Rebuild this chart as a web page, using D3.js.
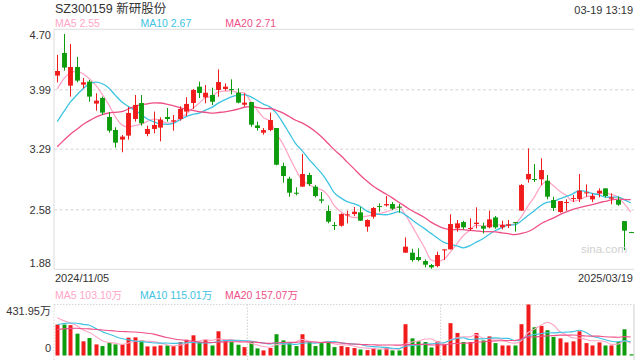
<!DOCTYPE html>
<html><head><meta charset="utf-8">
<script src="https://cdn.jsdelivr.net/npm/d3@7"></script>
<style>
body{margin:0;background:#fff;}
svg{display:block;font-family:"Liberation Sans",Arial,"Noto Sans CJK SC",sans-serif;}
</style>
</head><body>
<svg id="chart" width="640" height="360"></svg>
<script>
// ---------- data ----------
const title = "SZ300159 新研股份";
const timeStamp = "03-19 13:19";
const dates = [
 "2024/11/05","2024/11/06","2024/11/07","2024/11/08","2024/11/11","2024/11/12","2024/11/13","2024/11/14","2024/11/15","2024/11/18",
 "2024/11/19","2024/11/20","2024/11/21","2024/11/22","2024/11/25","2024/11/26","2024/11/27","2024/11/28","2024/11/29","2024/12/02",
 "2024/12/03","2024/12/04","2024/12/05","2024/12/06","2024/12/09","2024/12/10","2024/12/11","2024/12/12","2024/12/13","2024/12/16",
 "2024/12/17","2024/12/18","2024/12/19","2024/12/20","2024/12/23","2024/12/24","2024/12/25","2024/12/26","2024/12/27","2024/12/30",
 "2024/12/31","2025/01/02","2025/01/03","2025/01/06","2025/01/07","2025/01/08","2025/01/09","2025/01/10","2025/01/13","2025/01/14",
 "2025/01/15","2025/01/16","2025/01/17","2025/01/20","2025/01/21","2025/01/22","2025/01/23","2025/01/24","2025/01/27","2025/02/05",
 "2025/02/06","2025/02/07","2025/02/10","2025/02/11","2025/02/12","2025/02/13","2025/02/14","2025/02/17","2025/02/18","2025/02/19",
 "2025/02/20","2025/02/21","2025/02/24","2025/02/25","2025/02/26","2025/02/27","2025/02/28","2025/03/03","2025/03/04","2025/03/05",
 "2025/03/06","2025/03/07","2025/03/10","2025/03/11","2025/03/12","2025/03/13","2025/03/14","2025/03/17","2025/03/18","2025/03/19"
];
const openP = [
 4.156,4.422,4.038,4.257,4.050,4.085,3.827,3.893,3.670,3.517,
 3.404,3.451,3.646,3.834,3.470,3.529,3.545,3.670,3.615,3.646,
 3.733,3.834,4.026,3.900,3.928,3.987,3.998,3.998,3.955,3.814,
 3.845,3.571,3.485,3.516,3.540,3.093,2.945,2.780,2.851,2.988,
 2.851,2.702,2.565,2.400,2.392,2.514,2.529,2.549,2.381,2.498,
 2.623,2.631,2.647,2.616,2.075,2.075,2.024,1.977,1.930,1.918,
 2.103,2.114,2.361,2.435,2.353,2.412,2.388,2.373,2.490,2.373,
 2.392,2.435,2.569,2.937,2.941,2.937,2.921,2.694,2.553,2.663,
 2.710,2.706,2.776,2.702,2.772,2.831,2.710,2.694,2.447,2.318
];
const highP = [
 4.399,4.645,4.528,4.375,4.128,4.105,3.948,3.909,3.725,3.549,
 3.458,3.787,3.928,3.928,3.568,3.733,3.666,3.776,3.693,3.795,
 3.901,3.999,4.085,4.045,4.014,4.229,4.065,4.112,4.006,3.947,
 3.845,3.614,3.540,3.720,3.540,3.133,2.968,2.843,3.234,3.015,
 2.870,2.788,2.631,2.435,2.537,2.569,2.612,2.612,2.467,2.612,
 2.655,2.741,2.670,2.647,2.255,2.122,2.126,1.997,1.942,2.087,
 2.114,2.526,2.459,2.451,2.479,2.608,2.428,2.569,2.506,2.451,
 2.459,2.435,2.882,3.301,3.117,3.184,2.988,2.733,2.682,2.702,
 2.753,3.000,2.878,2.772,2.831,2.831,2.772,2.733,2.447,2.320
];
const lowP = [
 4.077,4.214,3.909,4.077,4.007,3.850,3.744,3.693,3.486,3.310,
 3.255,3.404,3.615,3.568,3.443,3.478,3.384,3.615,3.509,3.627,
 3.678,3.764,3.893,3.830,3.810,3.908,3.979,3.936,3.830,3.791,
 3.556,3.509,3.462,3.501,3.101,2.898,2.733,2.749,2.851,2.858,
 2.725,2.655,2.420,2.341,2.381,2.420,2.506,2.451,2.322,2.475,
 2.557,2.616,2.576,2.545,2.075,1.969,1.973,1.903,1.887,1.903,
 1.989,2.114,2.322,2.349,2.334,2.361,2.302,2.361,2.357,2.349,
 2.365,2.322,2.569,2.898,2.906,2.870,2.702,2.565,2.545,2.569,
 2.670,2.670,2.733,2.670,2.725,2.725,2.643,2.627,2.106,2.312
];
const closeP = [
 4.210,4.250,4.257,4.097,4.077,3.909,3.862,3.721,3.509,3.368,
 3.439,3.717,3.811,3.595,3.529,3.576,3.639,3.646,3.631,3.764,
 3.823,3.987,3.952,3.955,3.849,4.080,4.026,3.987,3.838,3.838,
 3.579,3.540,3.516,3.634,3.109,2.976,2.780,2.768,3.000,2.882,
 2.741,2.686,2.439,2.392,2.529,2.525,2.557,2.451,2.459,2.600,
 2.612,2.647,2.592,2.608,2.146,1.989,1.989,1.934,1.903,2.048,
 2.114,2.412,2.420,2.373,2.365,2.428,2.357,2.467,2.373,2.400,
 2.408,2.424,2.870,3.000,2.929,3.046,2.733,2.600,2.682,2.670,
 2.717,2.804,2.784,2.741,2.804,2.741,2.725,2.639,2.334,2.315
];
// volume in 万 (10k shares)
const volume = [
 262,262,257,185,120,148,94,80,108,94,
 94,151,154,128,77,77,85,85,80,114,
 134,171,114,134,85,205,134,114,91,71,
 114,60,43,63,180,128,114,80,180,114,
 80,105,120,71,80,71,63,51,46,63,
 51,71,43,43,265,145,120,114,68,120,
 94,274,191,114,114,191,128,162,105,85,
 85,85,265,431.95,239,251,214,157,145,111,
 120,205,105,85,111,85,85,114,222,10
];
// sessions before the window, estimated from where the MA lines start
const priorCloses = [2.75,2.85,2.95,2.90,3.00,3.05,3.10,3.15,3.20,3.30,3.10,3.15,3.25,3.30,3.35,3.665,3.902,3.997,4.221];
const priorVolume = [150,170,160,200,190,180,170,200,180,180,180,200,210,215,220,380,350,300,303];

const priceTicks = [4.70, 3.99, 3.29, 2.58, 1.88];
const priceTickLabels = ["4.70","3.99","3.29","2.58","1.88"];
const volTicks = [431.95, 0];
const volTickLabels = ["431.95万","0"];
const maPeriods = [5, 10, 20];
const maNames = ["MA5","MA10","MA20"];
const priceMaText = ["2.55","2.67","2.71"];
const volMaText = ["103.10万","115.01万","157.07万"];

// ---------- styles ----------
const maColors = ["#ffa6c6","#3ec3e2","#ee4f88"];
const upColor = "#f21b1b", downColor = "#0c9c0c";
const textColor = "#333";
const frameColor = "#dcdcdc";

// ---------- layout ----------
const L = 54, R = 634;
const pTop = 29.3, pBot = 269.3;
const vTop = 304.5, vBot = 355.5;

const svg = d3.select("#chart");
const idx = d3.range(dates.length);

const x = d3.scaleBand().domain(idx).range([L, R]).paddingInner(0);
const step = x.bandwidth();
const cx = i => x(i) + step / 2;

const y = d3.scaleLinear().domain([1.88, 4.70]).range([pBot, pTop]);
const yv = d3.scaleLinear().domain([0, 431.95]).range([vBot, vTop]);

function movingAvg(prior, vals, n) {
  const all = prior.concat(vals);
  const off = prior.length;
  return vals.map((_, i) => d3.mean(all.slice(off + i - n + 1, off + i + 1)));
}

// ---------- header ----------
svg.append("text").attr("x", 55).attr("y", 13).attr("font-size", 12.5).attr("fill", textColor).text(title);
svg.append("text").attr("x", 633).attr("y", 13.5).attr("font-size", 11).attr("fill", textColor)
  .attr("text-anchor", "end").text(timeStamp);

const legX = [55, 140.5, 225.3];
maNames.forEach((nm, k) => {
  svg.append("text").attr("x", legX[k]).attr("y", 27).attr("font-size", 10.5)
    .attr("fill", maColors[k]).text(nm + " " + priceMaText[k]);
});

// ---------- price panel ----------
const gP = svg.append("g");
// grid dotted lines
gP.selectAll("line.grid").data(priceTicks.slice(1, -1)).enter().append("line")
  .attr("x1", L).attr("x2", R).attr("y1", d => y(d)).attr("y2", d => y(d))
  .attr("stroke", "#e2e2e2").attr("stroke-width", 1.5).attr("stroke-dasharray", "3,2.5");
// frame
gP.append("line").attr("x1", L).attr("x2", R).attr("y1", pTop).attr("y2", pTop).attr("stroke", frameColor);
gP.append("line").attr("x1", L).attr("x2", R).attr("y1", pBot).attr("y2", pBot).attr("stroke", frameColor);
gP.append("line").attr("x1", L).attr("x2", L).attr("y1", pTop).attr("y2", pBot).attr("stroke", frameColor);

// y labels
priceTicks.forEach((t, k) => {
  let dy = 4;
  if (k === 0) dy = 10;
  if (k === priceTicks.length - 1) dy = -2;
  svg.append("text").attr("x", 51).attr("y", y(t) + dy).attr("font-size", 11)
    .attr("fill", textColor).attr("text-anchor", "end").text(priceTickLabels[k]);
});

// watermark
svg.append("text").attr("x", 581).attr("y", 252.5).attr("font-size", 11.5)
  .attr("fill", "#cfcfcf").text("sina.com");

// MA lines (price)
maPeriods.forEach((n, k) => {
  const ma = movingAvg(priorCloses, closeP, n);
  const line = d3.line().x((d, i) => cx(i)).y(d => y(d)).curve(d3.curveMonotoneX);
  gP.append("path").datum(ma).attr("d", line).attr("fill", "none")
    .attr("stroke", maColors[k]).attr("stroke-width", 1.3);
});

// candles
const bodyW = step * 0.76;
const cg = gP.selectAll("g.c").data(idx).enter().append("g");
cg.append("line")
  .attr("x1", i => Math.round(cx(i)) + 0.5).attr("x2", i => Math.round(cx(i)) + 0.5)
  .attr("y1", i => y(highP[i])).attr("y2", i => y(lowP[i]))
  .attr("stroke", i => closeP[i] >= openP[i] ? upColor : downColor).attr("stroke-width", 1);
cg.append("rect")
  .attr("x", i => Math.round(cx(i)) + 0.5 - bodyW / 2)
  .attr("width", bodyW)
  .attr("y", i => y(Math.max(openP[i], closeP[i])))
  .attr("height", i => Math.max(1, Math.abs(y(openP[i]) - y(closeP[i]))))
  .attr("fill", i => closeP[i] >= openP[i] ? upColor : downColor);

// date labels
svg.append("text").attr("x", 55).attr("y", 282).attr("font-size", 11).attr("fill", textColor).text(dates[0]);
svg.append("text").attr("x", 633).attr("y", 282).attr("font-size", 11).attr("fill", textColor)
  .attr("text-anchor", "end").text(dates[dates.length - 1]);

// ---------- volume panel ----------
maNames.forEach((nm, k) => {
  svg.append("text").attr("x", [55, 140, 225][k]).attr("y", 299).attr("font-size", 10.5)
    .attr("fill", maColors[k]).text(nm + " " + volMaText[k]);
});
const gV = svg.append("g");
gV.append("line").attr("x1", L).attr("x2", R).attr("y1", vTop).attr("y2", vTop)
  .attr("stroke", "#d6d6d6").attr("stroke-dasharray", "1.5,1.5");
gV.append("line").attr("x1", L).attr("x2", L).attr("y1", vTop).attr("y2", 360)
  .attr("stroke", "#d6d6d6").attr("stroke-dasharray", "1.5,1.5");
gV.append("line").attr("x1", R).attr("x2", R).attr("y1", vTop).attr("y2", 360)
  .attr("stroke", "#cfcfcf");
[1 / 3, 2 / 3].forEach(f => {
  const xx = L + (R - L) * f;
  gV.append("line").attr("x1", xx).attr("x2", xx).attr("y1", vTop).attr("y2", 360)
    .attr("stroke", "#d0d0d0").attr("stroke-dasharray", "1.5,1.5");
});
volTicks.forEach((t, k) => {
  const dy = k === 0 ? 10.5 : -3.5;
  svg.append("text").attr("x", 51).attr("y", yv(t) + dy).attr("font-size", 11)
    .attr("fill", textColor).attr("text-anchor", "end").text(volTickLabels[k]);
});
const volW = step * 0.62;
gV.selectAll("rect.v").data(idx).enter().append("rect")
  .attr("x", i => Math.round(cx(i)) + 0.5 - volW / 2)
  .attr("width", volW)
  .attr("y", i => yv(volume[i]))
  .attr("height", i => vBot - yv(volume[i]))
  .attr("fill", i => closeP[i] >= openP[i] ? upColor : downColor);
maPeriods.forEach((n, k) => {
  const ma = movingAvg(priorVolume, volume, n);
  const line = d3.line().x((d, i) => cx(i)).y(d => yv(d)).curve(d3.curveMonotoneX);
  gV.append("path").datum(ma).attr("d", line).attr("fill", "none")
    .attr("stroke", maColors[k]).attr("stroke-width", 1.1);
});
</script>
</body></html>
